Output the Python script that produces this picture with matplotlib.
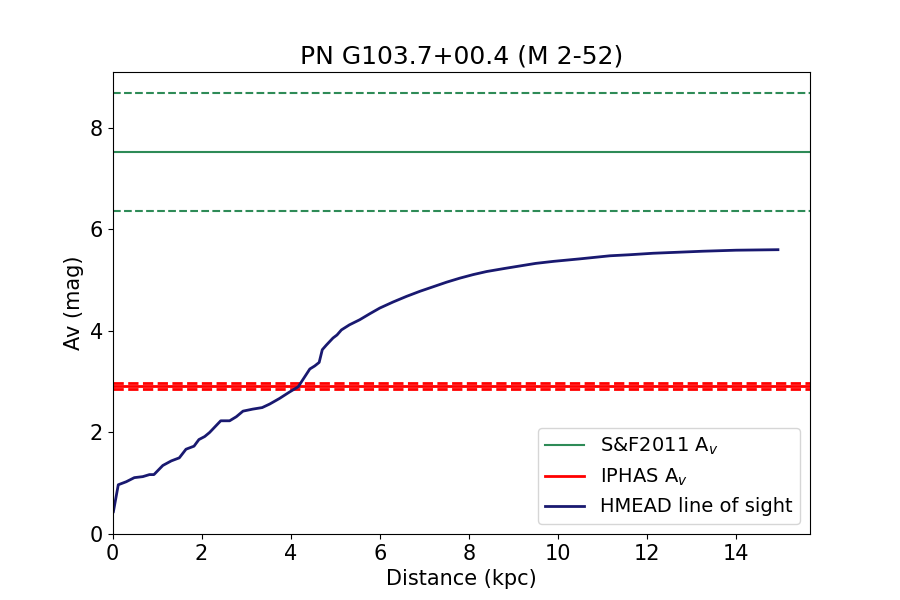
import matplotlib
matplotlib.use("Agg")
import matplotlib.pyplot as plt

# HMEAD line of sight (distance kpc, Av mag)
dist = [0.02, 0.13, 0.31, 0.49, 0.68, 0.83, 0.93, 1.13, 1.32, 1.50, 1.65, 1.83,
        1.94, 2.07, 2.18, 2.43, 2.63, 2.78, 2.93, 3.15, 3.36, 3.53, 3.75, 3.98,
        4.17, 4.43, 4.54, 4.64, 4.71, 4.80, 4.95, 5.04, 5.14, 5.32, 5.55, 5.78,
        6.00, 6.30, 6.60, 6.90, 7.20, 7.50, 7.80, 8.10, 8.40, 8.80, 9.15, 9.50,
        9.90, 10.50, 11.17, 11.60, 12.14, 12.70, 13.26, 14.00, 14.94]
av = [0.44, 0.97, 1.03, 1.11, 1.13, 1.17, 1.17, 1.35, 1.44, 1.50, 1.67, 1.73,
      1.86, 1.92, 2.00, 2.23, 2.23, 2.31, 2.42, 2.46, 2.49, 2.56, 2.67, 2.80,
      2.90, 3.25, 3.31, 3.38, 3.63, 3.72, 3.86, 3.92, 4.02, 4.12, 4.22, 4.34,
      4.45, 4.57, 4.68, 4.78, 4.87, 4.96, 5.04, 5.11, 5.17, 5.23, 5.28, 5.33,
      5.37, 5.42, 5.48, 5.50, 5.53, 5.55, 5.57, 5.59, 5.60]

sf_av = 7.53
sf_err = 1.16
iphas_av = 2.92
iphas_err = 0.06

fig, ax = plt.subplots(figsize=(9, 6), dpi=100)
ax.axhline(sf_av, color='seagreen', lw=1.5, label='S&F2011 A$_v$')
ax.axhline(sf_av + sf_err, color='seagreen', lw=1.5, ls='--')
ax.axhline(sf_av - sf_err, color='seagreen', lw=1.5, ls='--')
ax.axhline(iphas_av, color='red', lw=2, label='IPHAS A$_v$')
ax.axhline(iphas_av + iphas_err, color='red', lw=2, ls='--')
ax.axhline(iphas_av - iphas_err, color='red', lw=2, ls='--')
ax.plot(dist, av, color='midnightblue', lw=2, label='HMEAD line of sight')

ax.set_xlim(0, 15.66)
ax.set_ylim(0, 9.1)
ax.set_title('PN G103.7+00.4 (M 2-52)', fontsize=18)
ax.set_xlabel('Distance (kpc)', fontsize=15)
ax.set_ylabel('Av (mag)', fontsize=15)
ax.tick_params(labelsize=15)
ax.legend(loc='lower right', fontsize=14)
fig.savefig('out.png')
